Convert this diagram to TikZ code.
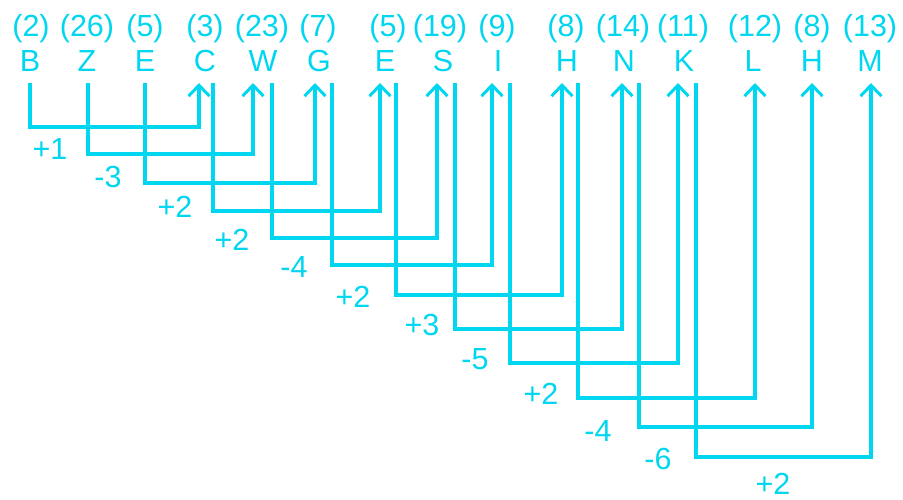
\documentclass[tikz,border=0pt]{standalone}
\usepackage{fontspec}
\setmainfont{Liberation Sans}
\usetikzlibrary{arrows.meta}
\definecolor{cy}{RGB}{0,214,240}
\begin{document}
\begin{tikzpicture}[x=1pt,y=-1pt,
  txt/.style={text=cy,font=\fontsize{30.5}{31}\selectfont,anchor=base,inner sep=0pt},
  conn/.style={draw=cy,line width=3.3pt,line join=miter},
  arr/.style={conn,-{Straight Barb[length=11pt,width=21pt,line width=3pt]}}]
\useasboundingbox (0,0) rectangle (903,500);
% numbers
\foreach \n/\x/\t in {n1/31/(2),n2/87/(26),n3/145/(5),n4/205/(3),n5/262/(23),n6/318/(7),n7/388/(5),n8/440/(19),n9/497/(9),n10/566/(8),n11/623/(14),n12/683/(11),n13/755/(12),n14/812/(8),n15/870/(13)}
  \node[txt] (\n) at (\x,37) {\t};
% letters
\foreach \n/\x/\t in {l1/30/B,l2/87/Z,l3/145/E,l4/205/C,l5/263/W,l6/319/G,l7/385/E,l8/443/S,l9/498/I,l10/567/H,l11/624/N,l12/684/K,l13/753/L,l14/812/H,l15/870/M}
  \node[txt] (\n) at (\x,72) {\t};
% source points
\foreach \n/\x in {s1/30,s2/88,s3/145,s4/213,s5/272,s6/332,s7/396,s8/455,s9/510,s10/578,s11/639,s12/696}
  \coordinate (\n) at (\x,83);
% target points
\foreach \n/\x in {t4/199,t5/253,t6/315,t7/380,t8/437,t9/492,t10/562,t11/622,t12/678,t13/755,t14/812,t15/871}
  \coordinate (\n) at (\x,83);
% connectors
\foreach \s/\t/\y in {s1/t4/127,s2/t5/154,s3/t6/183,s4/t7/211,s5/t8/238,s6/t9/265,s7/t10/295,s8/t11/329,s9/t12/363,s10/t13/398,s11/t14/427,s12/t15/457}
  \draw[arr] (\s) |- (\t |- 0,\y) -- (\t);
% change labels
\foreach \n/\x/\y/\t in {c1/50/160/+1,c2/108/188/-3,c3/175/218/+2,c4/232/250/+2,c5/294/277/-4,c6/353/307/+2,c7/422/335/+3,c8/475/369/-5,c9/541/404/+2,c10/598/441/-4,c11/658/469/-6,c12/773/494/+2}
  \node[txt] (\n) at (\x,\y) {\t};
\end{tikzpicture}
\end{document}
